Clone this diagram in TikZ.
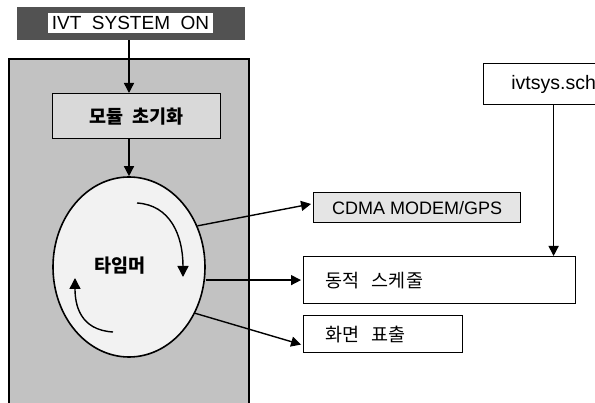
\documentclass[tikz,border=0pt]{standalone}
\usepackage{fontspec}
\setmainfont{Liberation Sans}
\newfontfamily\kor{Noto Sans CJK KR}
\usetikzlibrary{shapes.geometric,arrows.meta,calc}
\definecolor{ivtpanel}{gray}{0.76}
\definecolor{ivtdark}{gray}{0.32}
\definecolor{ivtmod}{gray}{0.85}
\definecolor{ivtcdma}{gray}{0.9}
\definecolor{ivtoval}{gray}{0.95}

\tikzset{
  ivtbox/.style={draw,line width=1.2pt,inner ysep=0pt,anchor=north west,align=left},
  ivtarrow/.style={line width=1.4pt,-{Triangle[length=10pt,width=10pt]},shorten >=2pt},
  curlarrow/.style={line width=1.4pt,-{Triangle[length=11pt,width=11pt]}},
}

\begin{document}
\begin{tikzpicture}[x=1pt,y=-1pt]
  \path[use as bounding box,clip] (0,0) rectangle (595,403);
  % left panel and banner
  \filldraw[fill=ivtpanel,line width=1.2pt] (9,59) rectangle (249,420);
  \node[fill=ivtdark,minimum width=228pt,minimum height=33pt,inner sep=0pt] (banner) at (131,23.5) {};
  \node[fill=white,minimum width=165pt,minimum height=20pt,inner sep=0pt,font=\fontsize{19}{20}\selectfont] (bannertext) at (130.5,23) {IVT\ \ SYSTEM\ \ ON};
  \node[ivtbox,fill=ivtmod,minimum width=168pt,minimum height=45pt,inner xsep=18pt,font=\kor\bfseries\fontsize{18.5}{20}\selectfont] (module) at (52,93) {모듈\ \ 초기화};
  \node[draw,ellipse,line width=1.6pt,fill=ivtoval,minimum width=152pt,minimum height=180pt,inner sep=0pt] (timer) at (129,267) {};
  \node[font=\kor\bfseries\fontsize{18.5}{20}\selectfont] (timerlabel) at (120,266) {타임머};
  % right side boxes
  \node[ivtbox,fill=white,minimum width=140pt,minimum height=41pt,inner xsep=10pt,font=\fontsize{19.5}{20}\selectfont] (ivtsys) at (483,63) {ivtsys.sch};
  \node[ivtbox,fill=ivtcdma,minimum width=207pt,minimum height=30pt,inner xsep=10pt,font=\fontsize{18}{20}\selectfont] (cdma) at (313,192) {CDMA MODEM/GPS};
  \node[ivtbox,minimum width=272pt,minimum height=47pt,inner xsep=22pt,text width=228pt,font=\kor\fontsize{18.5}{20}\selectfont] (sched) at (303,256) {동적\ \ 스케줄};
  \node[ivtbox,minimum width=159pt,minimum height=37pt,inner xsep=22pt,text width=115pt,font=\kor\fontsize{18.5}{20}\selectfont] (screen) at (303,315) {화면\ \ 표출};
  % flow
  \draw[ivtarrow,shorten >=0pt] (banner.south -| timer.north) -- (module.north -| timer.north);
  \draw[ivtarrow,shorten >=0pt] (module.south -| timer.north) -- (timer.north);
  \draw[ivtarrow] (timer.31) -- ($(cdma.west)+(0,-4)$);
  \draw[ivtarrow] (sched.west -| timer.east) -- (sched.west);
  \draw[ivtarrow] (timer.-35) -- ($(screen.west)+(0,11)$);
  \draw[ivtarrow,shorten >=0pt] (ivtsys.south) -- (ivtsys.south |- sched.north);
  % loop inside the timer
  \draw[curlarrow] ($(timer)+(8,-64)$) .. controls ($(timer)+(41,-62)$) and ($(timer)+(54,-32)$) .. ($(timer)+(54,10)$);
  \draw[curlarrow] ($(timer)+(-16,65)$) .. controls ($(timer)+(-49,63)$) and ($(timer)+(-54,38)$) .. ($(timer)+(-54,11)$);
\end{tikzpicture}
\end{document}
